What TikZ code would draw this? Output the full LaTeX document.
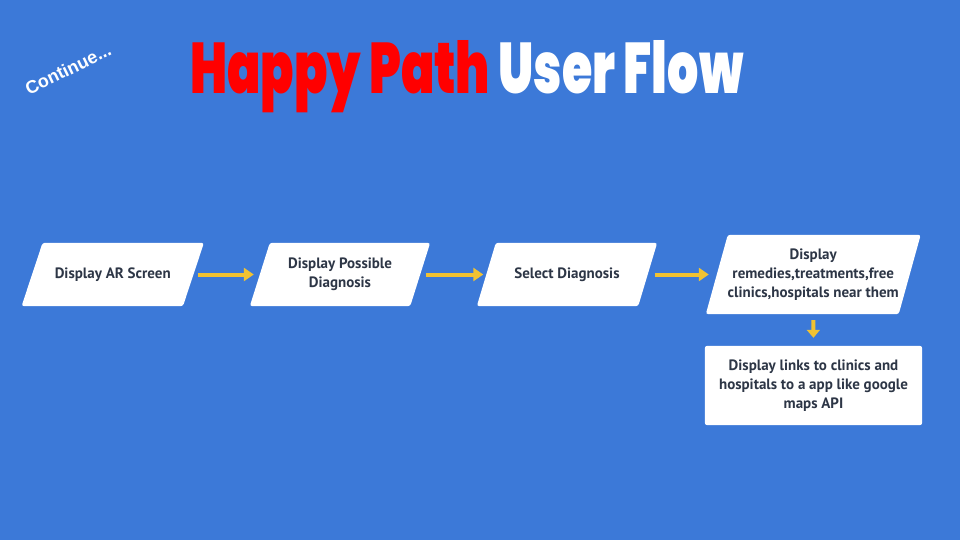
\documentclass[tikz,border=0pt]{standalone}
\usepackage{fontspec}
\setmainfont{PT Sans}
\newfontfamily\titlefont{Poppins}[UprightFont={* Black}]
\newfontfamily\contfont{Liberation Sans}
\usetikzlibrary{arrows.meta,backgrounds,calc}
\definecolor{bgblue}{RGB}{60,121,216}
\definecolor{txtdark}{RGB}{45,54,70}
\definecolor{arrowyellow}{RGB}{241,194,50}
\definecolor{titlered}{RGB}{255,0,0}
\tikzset{
  stepbox/.style={shape=rectangle, inner sep=0pt, align=center, text=txtdark,
    font=\fontsize{15}{19}\selectfont\bfseries},
  flow/.style={draw=arrowyellow, line width=4pt,
    -{Triangle[length=10pt,width=13pt]}},
}
\newcommand{\parafill}[2]{%
  \fill[white, rounded corners=2.5pt]
    ($(#1.south west)+(-#2,0)$) -- ($(#1.south east)+(-#2,0)$) --
    ($(#1.north east)+(#2,0)$) -- ($(#1.north west)+(#2,0)$) -- cycle;}
\begin{document}
\begin{tikzpicture}[x=1pt,y=-1pt]
\useasboundingbox (0,0) rectangle (960,540);
% title
\node[anchor=base west, inner sep=0pt] (title) at (190,94)
  {\resizebox{553pt}{53pt}{\titlefont\textcolor{titlered}{Happy Path} \textcolor{white}{User Flow}}};
\node[rotate=26, text=white, font=\contfont\fontsize{18}{21}\selectfont\bfseries] (cont) at (68,69) {Continue...};
% steps
\node[stepbox, minimum width=161pt, minimum height=63pt] (p1) at (112.75,274.5) {Display AR Screen};
\node[stepbox, minimum width=160pt, minimum height=63pt] (p2) at (340,274.5) {Display Possible\\Diagnosis};
\node[stepbox, minimum width=161pt, minimum height=63pt] (p3) at (567,274.5) {Select Diagnosis};
\node[stepbox, minimum width=192.5pt, minimum height=79pt] (p4) at (813.25,274.5) {Display\\remedies,treatments,free\\clinics,hospitals near them};
\node[stepbox, minimum width=217pt, minimum height=79pt] (p5) at (813.5,385.5) {Display links to clinics and\\hospitals to a app like google\\maps API};
% connectors
\draw[flow, shorten <=5pt, shorten >=6pt] (p1.east) -- (p2.west);
\draw[flow, shorten <=6pt, shorten >=3pt] (p2.east) -- (p3.west);
\draw[flow, shorten <=7pt, shorten >=8pt] (p3.east) -- (p4.west);
\draw[flow, -{Triangle[length=8pt,width=13pt]}, shorten <=6pt, shorten >=8pt] (p4.south) -- (p5.north);
\begin{scope}[on background layer]
  \fill[bgblue] (0,0) rectangle (960,540);
  \parafill{p1}{10.5}
  \parafill{p2}{10}
  \parafill{p3}{9.5}
  \parafill{p4}{11}
  \fill[white, rounded corners=2.5pt] (p5.south west) rectangle (p5.north east);
\end{scope}
\end{tikzpicture}
\end{document}
